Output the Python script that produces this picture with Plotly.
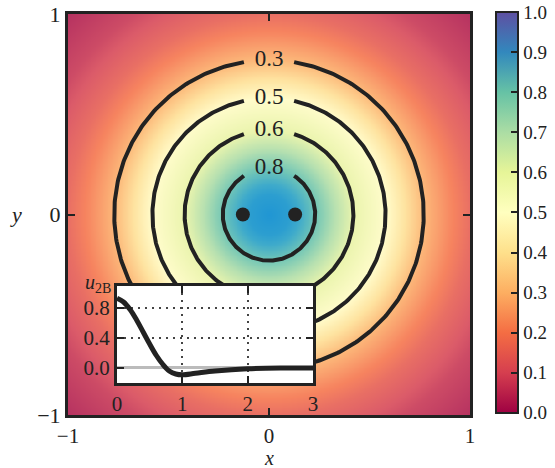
import numpy as np
import plotly.graph_objects as go

# ---- data ----
field_r = [0.0, 0.1, 0.23, 0.42, 0.58, 0.77, 0.9, 1.0, 1.2, 1.42]
field_v = [0.90, 0.88, 0.80, 0.60, 0.50, 0.30, 0.21, 0.15, 0.07, 0.02]
contour_levels = [0.3, 0.5, 0.6, 0.8]
particles_x = [-0.13, 0.13]
particles_y = [0.0, 0.0]
inset_r = [0, 0.1, 0.2, 0.3, 0.4, 0.5, 0.6, 0.7, 0.8, 0.9, 1.0, 1.2, 1.5, 2.0, 2.5, 3.0]
inset_u = [0.93, 0.88, 0.78, 0.64, 0.48, 0.32, 0.17, 0.05, -0.04, -0.08, -0.09, -0.07, -0.04, -0.01, 0.0, 0.0]
main_ticks = [-1, 0, 1]
cbar_ticks = [0.0, 0.1, 0.2, 0.3, 0.4, 0.5, 0.6, 0.7, 0.8, 0.9, 1.0]
inset_xticks = [0, 1, 2, 3]
inset_yticks = [0.0, 0.4, 0.8]

FONT = "Liberation Serif"
INK = "#222222"
LABEL_GAP = 0.125  # half-width (data units) of the gap left for contour labels

# lighter rendering of the Spectral map used for the field image
field_colors = [
    [0.0, "#ac275e"], [0.1, "#db5b69"], [0.2, "#f6835f"], [0.3, "#fcb97a"],
    [0.4, "#fee3a0"], [0.5, "#fffccb"], [0.6, "#eaf4ad"], [0.7, "#b6e0b0"],
    [0.8, "#72c6b6"], [0.85, "#3eaacb"], [0.9, "#2096d3"], [1.0, "#5e4fa2"],
]

xs = np.linspace(-1, 1, 241)
ys = np.linspace(-1, 1, 241)
X, Y = np.meshgrid(xs, ys)
R = np.sqrt(X**2 + Y**2)
Z = np.interp(R, field_r, field_v)

fig = go.Figure()
fig.add_trace(go.Heatmap(
    x=xs, y=ys, z=Z, zmin=0, zmax=1, zsmooth="best",
    colorscale=field_colors, hoverinfo="skip", showscale=False,
))
# colour bar (standard Spectral)
fig.add_trace(go.Scatter(
    x=[None, None], y=[None, None], mode="markers", hoverinfo="skip", showlegend=False,
    marker=dict(color=[0, 1], cmin=-0.0005, cmax=1.0005, colorscale="Spectral", showscale=True,
        colorbar=dict(
            x=1.0647, xanchor="left", xpad=0, ypad=0,
            y=0.005, yanchor="bottom", lenmode="fraction", len=1.0,
            thickness=22, thicknessmode="pixels",
            outlinewidth=2, outlinecolor=INK,
            tickvals=cbar_ticks, ticktext=[f"{v:.1f}" for v in cbar_ticks],
            ticks="inside", ticklen=8, tickwidth=2, tickcolor=INK,
            ticklabeloverflow="allow",
            tickfont=dict(family=FONT, size=19, color=INK),
        )),
))

# contour lines of the radial field, with a gap at the top for the label
vr = np.array(field_v)[::-1]
rr = np.array(field_r)[::-1]
label_x, label_y = [], []
for L in contour_levels:
    rL = float(np.interp(L, vr, rr))
    g = np.arcsin(min(LABEL_GAP / rL, 0.99))
    t = np.linspace(np.pi / 2 + g, np.pi / 2 + 2 * np.pi - g, 400)
    fig.add_trace(go.Scatter(
        x=rL * np.cos(t), y=rL * np.sin(t), mode="lines",
        line=dict(color=INK, width=4), hoverinfo="skip", showlegend=False,
    ))
    label_x.append(0.0)
    label_y.append(rL)
fig.add_trace(go.Scatter(
    x=label_x, y=label_y, mode="text", text=[f"{L:.1f}" for L in contour_levels],
    textposition="middle center", textfont=dict(family=FONT, size=23, color=INK),
    hoverinfo="skip", showlegend=False,
))
fig.add_trace(go.Scatter(
    x=particles_x, y=particles_y, mode="markers",
    marker=dict(color=INK, size=14), hoverinfo="skip", showlegend=False,
))
fig.add_trace(go.Scatter(
    x=inset_r, y=inset_u, mode="lines", line=dict(color=INK, width=5, shape="spline"),
    xaxis="x2", yaxis="y2", hoverinfo="skip", showlegend=False,
))

fig.update_layout(
    width=555, height=468,
    margin=dict(l=68, r=85, t=14, b=53, autoexpand=False),
    paper_bgcolor="white", plot_bgcolor="white",
    showlegend=False,
    font=dict(family=FONT, color=INK),
    xaxis=dict(domain=[0, 1], range=[-1, 1], tickvals=main_ticks,
               ticks="inside", ticklen=7, tickwidth=2, tickcolor=INK,
               showline=True, linewidth=3, linecolor=INK, mirror="ticks",
               showgrid=False, zeroline=False,
               tickfont=dict(family=FONT, size=21, color=INK)),
    yaxis=dict(domain=[0, 1], range=[-1, 1], tickvals=main_ticks,
               ticks="inside", ticklen=7, tickwidth=2, tickcolor=INK,
               showline=True, linewidth=3, linecolor=INK, mirror="ticks",
               showgrid=False, zeroline=False,
               tickfont=dict(family=FONT, size=22, color=INK)),
    xaxis2=dict(domain=[0.1219, 0.6095], range=[0, 3], anchor="y2",
                tickvals=inset_xticks, ticks="inside", ticklen=7, tickwidth=2, tickcolor=INK,
                showline=True, linewidth=3, linecolor=INK, mirror="ticks",
                showgrid=True, gridcolor="#444444", griddash="2px,5px", gridwidth=1.5,
                zeroline=False,
                tickfont=dict(family=FONT, size=21, color=INK)),
    yaxis2=dict(domain=[0.0798, 0.3217], range=[-0.2, 1.093], anchor="x2",
                tickvals=inset_yticks, ticktext=["0.0", "0.4", "0.8"],
                ticks="inside", ticklen=7, tickwidth=2, tickcolor=INK,
                showline=True, linewidth=3, linecolor=INK, mirror="ticks",
                showgrid=True, gridcolor="#444444", griddash="2px,5px", gridwidth=1.5,
                zeroline=True, zerolinecolor="#bbbbbb", zerolinewidth=3,
                tickfont=dict(family=FONT, size=21, color=INK)),
    annotations=[
        dict(text="<i>x</i>", x=0.5, y=-0.107, xref="paper", yref="paper",
             showarrow=False, font=dict(family=FONT, size=20, color=INK), yanchor="middle"),
        dict(text="<i>y</i>", x=-0.13, y=0.5, xref="paper", yref="paper",
             showarrow=False, font=dict(family=FONT, size=22, color=INK), xanchor="center"),
        dict(text="<i>u</i><sub>2B</sub>", x=0.0, y=1.093, xref="x2", yref="y2",
             xshift=-4, yshift=2, showarrow=False, font=dict(family=FONT, size=20, color=INK),
             xanchor="right", yanchor="middle"),
        dict(text="<i>r</i><sub><i>ij</i></sub>", x=1.5, y=-0.43, xref="x2", yref="y2",
             showarrow=False, font=dict(family=FONT, size=21, color=INK),
             xanchor="center", yanchor="middle"),
    ],
)

fig.write_html("out.html")
